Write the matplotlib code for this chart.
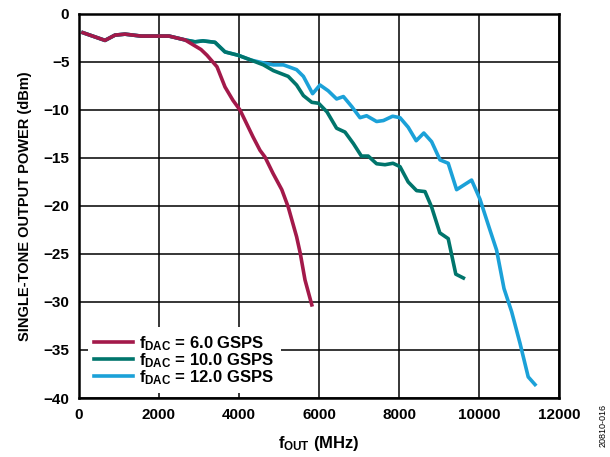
import matplotlib
matplotlib.use("Agg")
import matplotlib.pyplot as plt

# readings (MHz, dBm)
f_6g = [100, 650, 900, 1150, 1550, 2250, 2650, 3050, 3200, 3450, 3650, 3850, 4025,
        4350, 4525, 4650, 4850, 5070, 5230, 5440, 5530, 5650, 5820]
p_6g = [-1.95, -2.75, -2.2, -2.1, -2.3, -2.3, -2.7, -3.7, -4.3, -5.5, -7.6, -9.0, -10.0,
        -12.8, -14.2, -14.9, -16.6, -18.3, -20.1, -23.2, -24.9, -27.7, -30.3]

f_10g = [100, 650, 900, 1150, 1550, 2250, 2650, 2900, 3100, 3400, 3650, 3980, 4300,
         4610, 4860, 5230, 5440, 5610, 5820, 5990, 6200, 6440, 6650, 6860, 7060, 7230,
         7440, 7650, 7850, 8025, 8230, 8440, 8650, 8815, 9020, 9230, 9420, 9610]
p_10g = [-1.95, -2.75, -2.2, -2.1, -2.3, -2.3, -2.7, -2.9, -2.8, -2.95, -3.95, -4.3, -4.8,
         -5.3, -5.9, -6.5, -7.4, -8.5, -9.2, -9.3, -10.2, -11.9, -12.3, -13.5, -14.8, -14.8,
         -15.6, -15.7, -15.55, -15.9, -17.5, -18.4, -18.5, -20.1, -22.8, -23.4, -27.1, -27.5]

f_12g = [100, 650, 900, 1150, 1550, 2250, 2650, 2900, 3100, 3400, 3650, 3980, 4300,
         4610, 4860, 5110, 5440, 5610, 5840, 6025, 6230, 6440, 6610, 6820, 7025, 7190,
         7440, 7610, 7840, 8025, 8230, 8430, 8620, 8815, 9025, 9230, 9440, 9815, 10025,
         10250, 10440, 10625, 10815, 11025, 11230, 11400]
p_12g = [-1.95, -2.75, -2.2, -2.1, -2.3, -2.3, -2.7, -2.9, -2.8, -2.95, -3.95, -4.3, -4.8,
         -5.1, -5.3, -5.3, -5.8, -6.5, -8.3, -7.4, -8.0, -8.85, -8.6, -9.65, -10.8, -10.6,
         -11.2, -11.1, -10.65, -10.8, -11.8, -13.2, -12.4, -13.3, -15.2, -15.55, -18.3, -17.3, -19.3,
         -22.2, -24.6, -28.6, -31.0, -34.3, -37.8, -38.6]

x_ticks = [0, 2000, 4000, 6000, 8000, 10000, 12000]
y_ticks = [0, -5, -10, -15, -20, -25, -30, -35, -40]

plt.rcParams["font.family"] = ["Liberation Sans", "DejaVu Sans"]
plt.rcParams["font.weight"] = "bold"
plt.rcParams["mathtext.fontset"] = "custom"
plt.rcParams["mathtext.rm"] = "Liberation Sans:bold"
plt.rcParams["mathtext.it"] = "Liberation Sans:bold"
plt.rcParams["mathtext.bf"] = "Liberation Sans:bold"

fig = plt.figure(figsize=(6.10, 4.57), dpi=100)
ax = fig.add_axes([0.1295, 0.1291, 0.7869, 0.8403])

ax.plot(f_12g, p_12g, color="#1BA1D8", lw=2.6, label=r"$f_{DAC}$ = 12.0 GSPS")
ax.plot(f_10g, p_10g, color="#00756C", lw=2.6, label=r"$f_{DAC}$ = 10.0 GSPS")
ax.plot(f_6g, p_6g, color="#A3194A", lw=2.6, label=r"$f_{DAC}$ = 6.0 GSPS")

ax.set_xlim(0, 12000)
ax.set_ylim(-40, 0)
ax.set_xticks(x_ticks)
ax.set_yticks(y_ticks)
ax.set_yticklabels([str(v).replace("-", "\u2212") for v in y_ticks])
ax.grid(True, color="black", lw=1.1)
ax.tick_params(length=0, labelsize=11, pad=7)
for s in ax.spines.values():
    s.set_linewidth(1.8)

ax.set_xlabel(r"$f_{OUT}$ (MHz)", fontsize=12, fontweight="bold", labelpad=9)
ax.set_ylabel("SINGLE-TONE OUTPUT POWER (dBm)", fontsize=10.5, fontweight="bold", labelpad=8)

# legend rows sit tight together like the original
h, l = ax.get_legend_handles_labels()
leg = ax.legend(h[::-1], l[::-1], loc="lower left", bbox_to_anchor=(0.018, 0.012),
                frameon=True, fontsize=12, handlelength=2.3, handletextpad=0.4,
                labelspacing=-0.1, borderaxespad=0.0)
leg.get_frame().set_facecolor("white")
leg.get_frame().set_edgecolor("none")
leg.get_frame().set_alpha(1.0)

fig.text(0.988, 0.07, "20810-016", rotation=90, fontsize=6.5, fontweight="normal",
         ha="center", va="center")

fig.savefig("out.png", dpi=100)
